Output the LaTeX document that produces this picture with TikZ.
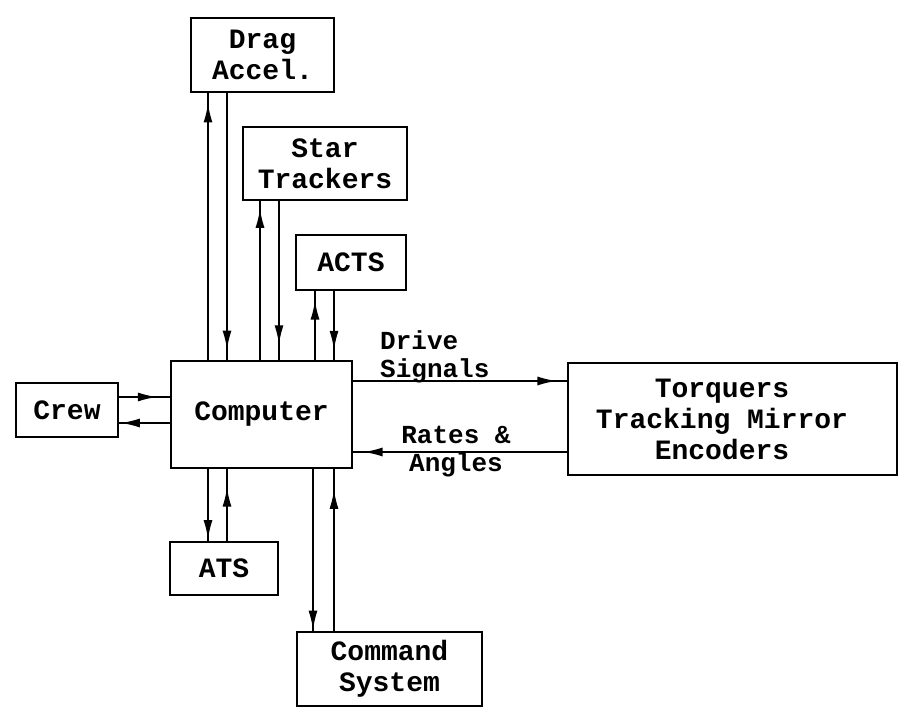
\documentclass[tikz,border=0pt]{standalone}
\usepackage{fontspec}
\newfontfamily\tw{Liberation Mono}
\usetikzlibrary{arrows.meta,decorations.markings}
\begin{document}
\begin{tikzpicture}[x=1pt,y=-1pt,
  box/.style={draw, line width=1.6pt, inner sep=0pt, align=center,
    font=\tw\bfseries\fontsize{28}{31}\selectfont},
  lab/.style={inner sep=0pt, font=\tw\bfseries\fontsize{26}{28}\selectfont},
  conn/.style={line width=1.6pt},
  mk/.style={postaction={decorate}, decoration={markings,
    mark=at position #1 with {\arrow{Latex[length=19pt,width=9pt]}}}}
]
\useasboundingbox (0,0) rectangle (907,712);

% boxes
\node[box, minimum width=143pt, minimum height=74pt] (drag) at (262.5,55) {Drag\\Accel.};
\node[box, minimum width=164pt, minimum height=73pt] (star) at (325,163.5) {Star\\Trackers};
\node[box, minimum width=110pt, minimum height=55pt] (acts) at (351,262.5) {ACTS};
\node[box, minimum width=181pt, minimum height=107pt] (comp) at (261.5,414.5) {Computer};
\node[box, minimum width=102pt, minimum height=54pt] (crew) at (67,410) {Crew};
\node[box, minimum width=329pt, minimum height=112pt] (torq) at (732.5,419) {};
\node[inner sep=0pt, align=center, font=\tw\bfseries\fontsize{28}{31}\selectfont] (torqtext) at (722,419) {Torquers\\Tracking Mirror\\Encoders};
\node[box, minimum width=108pt, minimum height=53pt] (ats) at (224,568.5) {ATS};
\node[box, minimum width=185pt, minimum height=74pt] (cmd) at (389.5,669) {Command\\System};

% labels
\node[lab, align=left, anchor=north west] (drive) at (380,330) {Drive\\Signals};
\node[lab, align=center, anchor=north] (rates) at (456,426) {Rates \&\\Angles};

% column / row positions
\coordinate (c208) at (208,0);
\coordinate (c227) at (227,0);
\coordinate (c260) at (260,0);
\coordinate (c279) at (279,0);
\coordinate (c315) at (315,0);
\coordinate (c334) at (334,0);
\coordinate (c313) at (313,0);
\coordinate (r397) at (0,397);
\coordinate (r423) at (0,423);
\coordinate (r381) at (0,381);
\coordinate (r452) at (0,452);

% top connectors
\draw[conn, mk=0.96] (comp.north -| c208) -- (drag.south -| c208);
\draw[conn, mk=0.96] (drag.south -| c227) -- (comp.north -| c227);
\draw[conn, mk=0.95] (comp.north -| c260) -- (star.south -| c260);
\draw[conn, mk=0.90] (star.south -| c279) -- (comp.north -| c279);
\draw[conn, mk=0.86] (comp.north -| c315) -- (acts.south -| c315);
\draw[conn, mk=0.85] (acts.south -| c334) -- (comp.north -| c334);

% bottom connectors
\draw[conn, mk=0.97] (comp.south -| c208) -- (ats.north -| c208);
\draw[conn, mk=0.74] (ats.north -| c227) -- (comp.south -| c227);
\draw[conn, mk=0.99] (comp.south -| c313) -- (cmd.north -| c313);
\draw[conn, mk=0.87] (cmd.north -| c334) -- (comp.south -| c334);

% crew
\draw[conn, mk=0.74] (crew.east |- r397) -- (comp.west |- r397);
\draw[conn, mk=0.96] (comp.west |- r423) -- (crew.east |- r423);

% torquers
\draw[conn, mk=0.95] (comp.east |- r381) -- (torq.west |- r381);
\draw[conn, mk=0.95] (torq.west |- r452) -- (comp.east |- r452);
\end{tikzpicture}
\end{document}
